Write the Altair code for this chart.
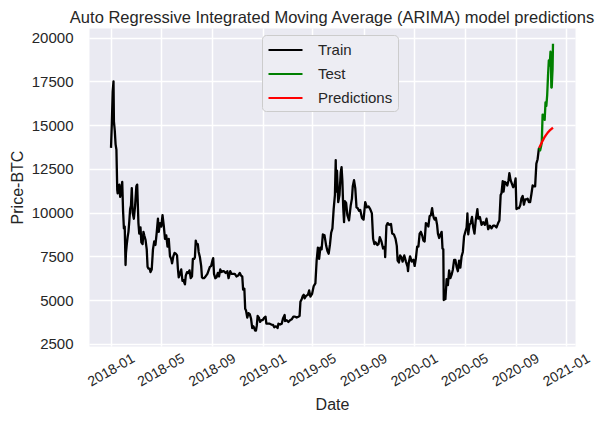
import altair as alt
import pandas as pd

TITLE = "Auto Regressive Integrated Moving Average (ARIMA) model predictions"

train_2018 = [
    ("2018-01-01", 13700), ("2018-01-03", 15100), ("2018-01-05", 16900), ("2018-01-07", 17500),
    ("2018-01-08", 15200), ("2018-01-10", 14700), ("2018-01-12", 13900), ("2018-01-14", 13600),
    ("2018-01-16", 11300), ("2018-01-17", 11100), ("2018-01-19", 11500), ("2018-01-21", 11600),
    ("2018-01-23", 10900), ("2018-01-25", 11200), ("2018-01-28", 11750), ("2018-01-30", 10100),
    ("2018-02-01", 9100), ("2018-02-03", 9200), ("2018-02-05", 7000), ("2018-02-06", 7700),
    ("2018-02-08", 8200), ("2018-02-10", 8600), ("2018-02-12", 8900), ("2018-02-14", 9500),
    ("2018-02-16", 10200), ("2018-02-18", 10400), ("2018-02-20", 11400), ("2018-02-22", 10000),
    ("2018-02-25", 9650), ("2018-02-28", 10400), ("2018-03-03", 11500), ("2018-03-05", 11600),
    ("2018-03-08", 9400), ("2018-03-10", 8800), ("2018-03-13", 9150), ("2018-03-15", 8300),
    ("2018-03-18", 8200), ("2018-03-20", 8900), ("2018-03-22", 8700), ("2018-03-25", 8450),
    ("2018-03-28", 7900), ("2018-03-30", 6900), ("2018-04-01", 6800), ("2018-04-04", 6800),
    ("2018-04-06", 6600), ("2018-04-09", 6750), ("2018-04-12", 7900), ("2018-04-15", 8350),
    ("2018-04-18", 8150), ("2018-04-21", 8850), ("2018-04-24", 9650), ("2018-04-26", 8900),
    ("2018-04-29", 9400), ("2018-05-02", 9200), ("2018-05-05", 9850), ("2018-05-08", 9250),
    ("2018-05-11", 8500), ("2018-05-14", 8700), ("2018-05-17", 8050), ("2018-05-20", 8500),
    ("2018-05-23", 7500), ("2018-05-26", 7350), ("2018-05-28", 7100), ("2018-05-31", 7500),
    ("2018-06-03", 7700), ("2018-06-06", 7650), ("2018-06-09", 7550), ("2018-06-11", 6800),
    ("2018-06-13", 6300), ("2018-06-16", 6500), ("2018-06-19", 6750), ("2018-06-22", 6100),
    ("2018-06-24", 6150), ("2018-06-28", 5900), ("2018-06-30", 6400), ("2018-07-03", 6600),
    ("2018-07-06", 6550), ("2018-07-09", 6700), ("2018-07-12", 6250), ("2018-07-15", 6350),
    ("2018-07-17", 7350), ("2018-07-20", 7350), ("2018-07-22", 7450), ("2018-07-24", 8400),
    ("2018-07-26", 8200), ("2018-07-29", 8200), ("2018-07-31", 7750), ("2018-08-03", 7450),
    ("2018-08-06", 6950), ("2018-08-08", 6300), ("2018-08-10", 6250), ("2018-08-13", 6250),
    ("2018-08-15", 6300), ("2018-08-18", 6400), ("2018-08-21", 6500), ("2018-08-24", 6700),
    ("2018-08-27", 6900), ("2018-08-30", 6950), ("2018-09-02", 7250), ("2018-09-04", 7400),
    ("2018-09-06", 6500), ("2018-09-09", 6250), ("2018-09-12", 6300), ("2018-09-15", 6550),
    ("2018-09-18", 6350), ("2018-09-21", 6750), ("2018-09-24", 6600), ("2018-09-27", 6650),
    ("2018-09-30", 6650), ("2018-10-04", 6550), ("2018-10-08", 6650), ("2018-10-11", 6250),
    ("2018-10-15", 6650), ("2018-10-18", 6500), ("2018-10-22", 6500), ("2018-10-26", 6500),
    ("2018-10-30", 6350), ("2018-11-03", 6400), ("2018-11-07", 6550), ("2018-11-10", 6400),
    ("2018-11-13", 6350), ("2018-11-15", 5600), ("2018-11-18", 5650), ("2018-11-20", 4500),
    ("2018-11-22", 4400), ("2018-11-25", 4000), ("2018-11-28", 4250), ("2018-12-01", 4200),
    ("2018-12-04", 3950), ("2018-12-07", 3400), ("2018-12-10", 3500), ("2018-12-14", 3250),
    ("2018-12-16", 3250), ("2018-12-18", 3550), ("2018-12-20", 4100), ("2018-12-23", 4000),
    ("2018-12-26", 3750), ("2018-12-29", 3850),
]

train_2019 = [
    ("2019-01-01", 3850), ("2019-01-05", 4000), ("2019-01-08", 4050), ("2019-01-10", 3650),
    ("2019-01-14", 3650), ("2019-01-18", 3650), ("2019-01-22", 3600), ("2019-01-26", 3580),
    ("2019-01-29", 3450), ("2019-02-02", 3500), ("2019-02-06", 3400), ("2019-02-08", 3650),
    ("2019-02-12", 3600), ("2019-02-16", 3650), ("2019-02-19", 3950), ("2019-02-23", 4150),
    ("2019-02-24", 3800), ("2019-02-28", 3850), ("2019-03-04", 3750), ("2019-03-08", 3850),
    ("2019-03-12", 3900), ("2019-03-16", 4050), ("2019-03-20", 4050), ("2019-03-24", 4000),
    ("2019-03-28", 4050), ("2019-03-31", 4100), ("2019-04-02", 4900), ("2019-04-05", 5050),
    ("2019-04-08", 5250), ("2019-04-10", 5300), ("2019-04-12", 5100), ("2019-04-16", 5250),
    ("2019-04-20", 5300), ("2019-04-23", 5550), ("2019-04-26", 5200), ("2019-04-30", 5350),
    ("2019-05-04", 5800), ("2019-05-08", 5950), ("2019-05-11", 7250), ("2019-05-14", 8000),
    ("2019-05-16", 7900), ("2019-05-17", 7350), ("2019-05-20", 8000), ("2019-05-23", 7900),
    ("2019-05-26", 8750), ("2019-05-30", 8700), ("2019-06-03", 8100), ("2019-06-06", 7800),
    ("2019-06-09", 7650), ("2019-06-12", 8150), ("2019-06-15", 8850), ("2019-06-18", 9100),
    ("2019-06-21", 10200), ("2019-06-24", 11000), ("2019-06-26", 13000), ("2019-06-27", 11200),
    ("2019-06-29", 12400), ("2019-07-02", 10600), ("2019-07-05", 11000), ("2019-07-08", 12300),
    ("2019-07-10", 12600), ("2019-07-12", 11800), ("2019-07-14", 10300), ("2019-07-16", 9450),
    ("2019-07-18", 10650), ("2019-07-21", 10550), ("2019-07-24", 9850), ("2019-07-28", 9550),
    ("2019-08-01", 10400), ("2019-08-04", 10800), ("2019-08-06", 11500), ("2019-08-09", 11850),
    ("2019-08-12", 11400), ("2019-08-15", 10300), ("2019-08-18", 10250), ("2019-08-21", 10100),
    ("2019-08-24", 10150), ("2019-08-28", 9700), ("2019-09-01", 9600), ("2019-09-05", 10600),
    ("2019-09-09", 10300), ("2019-09-13", 10350), ("2019-09-17", 10200), ("2019-09-21", 9950),
    ("2019-09-24", 8500), ("2019-09-27", 8200), ("2019-09-30", 8300), ("2019-10-04", 8150),
    ("2019-10-07", 8200), ("2019-10-10", 8600), ("2019-10-14", 8350), ("2019-10-18", 7950),
    ("2019-10-22", 8050), ("2019-10-23", 7450), ("2019-10-25", 8650), ("2019-10-26", 9250),
    ("2019-10-29", 9400), ("2019-11-02", 9300), ("2019-11-06", 9350), ("2019-11-09", 8800),
    ("2019-11-13", 8750), ("2019-11-17", 8500), ("2019-11-20", 8100), ("2019-11-22", 7250),
    ("2019-11-25", 7150), ("2019-11-28", 7550), ("2019-12-01", 7450), ("2019-12-04", 7200),
    ("2019-12-08", 7550), ("2019-12-12", 7200), ("2019-12-16", 6900), ("2019-12-17", 6650),
    ("2019-12-19", 7150), ("2019-12-22", 7500), ("2019-12-26", 7200), ("2019-12-30", 7300),
]

train_2020 = [
    ("2020-01-02", 6950), ("2020-01-05", 7400), ("2020-01-08", 8050), ("2020-01-11", 8050),
    ("2020-01-14", 8800), ("2020-01-17", 8900), ("2020-01-20", 8700), ("2020-01-23", 8400),
    ("2020-01-26", 8350), ("2020-01-29", 9400), ("2020-02-01", 9350), ("2020-02-04", 9200),
    ("2020-02-07", 9800), ("2020-02-10", 9850), ("2020-02-13", 10250), ("2020-02-15", 9900),
    ("2020-02-17", 9700), ("2020-02-19", 9600), ("2020-02-22", 9700), ("2020-02-25", 9300),
    ("2020-02-27", 8800), ("2020-03-01", 8550), ("2020-03-04", 8750), ("2020-03-07", 8900),
    ("2020-03-09", 7950), ("2020-03-11", 7900), ("2020-03-12", 5000), ("2020-03-14", 5350),
    ("2020-03-16", 5050), ("2020-03-19", 6200), ("2020-03-22", 5850), ("2020-03-25", 6700),
    ("2020-03-28", 6250), ("2020-03-31", 6450), ("2020-04-03", 6750), ("2020-04-06", 7300),
    ("2020-04-09", 7300), ("2020-04-12", 6900), ("2020-04-15", 6650), ("2020-04-18", 7250),
    ("2020-04-21", 6850), ("2020-04-24", 7500), ("2020-04-27", 7750), ("2020-04-30", 8650),
    ("2020-05-03", 8900), ("2020-05-06", 9150), ("2020-05-08", 9950), ("2020-05-10", 8750),
    ("2020-05-13", 9300), ("2020-05-16", 9400), ("2020-05-19", 9750), ("2020-05-22", 9150),
    ("2020-05-25", 8800), ("2020-05-28", 9550), ("2020-06-01", 10200), ("2020-06-03", 9650),
    ("2020-06-07", 9750), ("2020-06-11", 9300), ("2020-06-15", 9450), ("2020-06-19", 9300),
    ("2020-06-23", 9650), ("2020-06-27", 9050), ("2020-07-01", 9250), ("2020-07-05", 9100),
    ("2020-07-09", 9250), ("2020-07-13", 9250), ("2020-07-17", 9150), ("2020-07-21", 9400),
    ("2020-07-24", 9550), ("2020-07-27", 11000), ("2020-07-29", 11100), ("2020-08-01", 11800),
    ("2020-08-03", 11200), ("2020-08-06", 11750), ("2020-08-09", 11700), ("2020-08-12", 11550),
    ("2020-08-15", 11850), ("2020-08-17", 12250), ("2020-08-20", 11850), ("2020-08-23", 11650),
    ("2020-08-26", 11450), ("2020-08-29", 11550), ("2020-09-01", 11950), ("2020-09-03", 10200),
    ("2020-09-06", 10250), ("2020-09-09", 10250), ("2020-09-12", 10400), ("2020-09-15", 10800),
    ("2020-09-18", 10950), ("2020-09-21", 10450), ("2020-09-24", 10750), ("2020-09-27", 10750),
    ("2020-09-30", 10800), ("2020-10-03", 10600), ("2020-10-06", 10600), ("2020-10-09", 11050),
    ("2020-10-12", 11550), ("2020-10-15", 11500), ("2020-10-18", 11500), ("2020-10-21", 12800),
    ("2020-10-24", 13050), ("2020-10-27", 13650), ("2020-10-28", 13700),
]

test_2020 = [
    ("2020-10-28", 13700), ("2020-10-30", 13550), ("2020-11-01", 13750), ("2020-11-03", 14000),
    ("2020-11-05", 15600), ("2020-11-06", 15600), ("2020-11-08", 15500), ("2020-11-10", 15300),
    ("2020-11-12", 16300), ("2020-11-14", 16100), ("2020-11-16", 16700), ("2020-11-18", 17800),
    ("2020-11-20", 18700), ("2020-11-22", 18400), ("2020-11-24", 19200), ("2020-11-25", 18750),
    ("2020-11-26", 17150), ("2020-11-27", 17150), ("2020-11-28", 17700), ("2020-11-29", 18200),
    ("2020-11-30", 19650),
]

pred_2020 = [
    ("2020-10-28", 13700), ("2020-11-01", 13900), ("2020-11-05", 14100), ("2020-11-09", 14280),
    ("2020-11-13", 14430), ("2020-11-17", 14560), ("2020-11-21", 14670), ("2020-11-25", 14760),
    ("2020-11-30", 14850),
]

series_names = ["Train", "Test", "Predictions"]
series_colors = ["#000000", "#008000", "#ff0000"]
y_ticks = [2500, 5000, 7500, 10000, 12500, 15000, 17500, 20000]
x_tick_months = [(2018, 1), (2018, 5), (2018, 9), (2019, 1), (2019, 5), (2019, 9),
                 (2020, 1), (2020, 5), (2020, 9), (2021, 1)]

rows = []
for name, pts in [("Train", train_2018 + train_2019 + train_2020),
                  ("Test", test_2020), ("Predictions", pred_2020)]:
    for d, v in pts:
        rows.append({"Date": d, "Price": v, "series": name})
df = pd.DataFrame(rows)

x_values = [alt.DateTime(year=y, month=m, date=1, utc=True) for y, m in x_tick_months]
x_domain = [alt.DateTime(year=2017, month=11, date=9, utc=True),
            alt.DateTime(year=2021, month=1, date=22, utc=True)]

FONT = "Liberation Sans"
TXT = "#262626"

chart = alt.Chart(df).mark_line(strokeWidth=2.3, strokeJoin="round").encode(
    x=alt.X("Date:T",
            scale=alt.Scale(type="utc", domain=x_domain, nice=False),
            axis=alt.Axis(values=x_values, format="%Y-%m", labelAngle=330,
                          labelAlign="center", labelBaseline="middle", labelPadding=24,
                          labelOverlap=False, labelFontSize=14,
                          title="Date", titleY=58, titleBaseline="middle")),
    y=alt.Y("Price:Q",
            scale=alt.Scale(domain=[2375, 20550], nice=False, zero=False),
            axis=alt.Axis(values=y_ticks, format="d", labelPadding=16,
                          title="Price-BTC", titleX=-72, titleBaseline="middle")),
    color=alt.Color("series:N",
                    scale=alt.Scale(domain=series_names, range=series_colors),
                    sort=series_names,
                    legend=alt.Legend(title=None, orient="none", legendX=173, legendY=7,
                                      symbolType="M-1,0H3", symbolSize=289,
                                      symbolStrokeWidth=2.2, labelOffset=31,
                                      labelFontSize=15, labelFont=FONT, labelColor=TXT,
                                      rowPadding=6, padding=5,
                                      fillColor="#EDEDF3", strokeColor="#cccccc",
                                      cornerRadius=4)),
    order=alt.Order("Date:T"),
).properties(
    width=486, height=318,
    title=alt.TitleParams(TITLE, fontSize=16.5, font=FONT, fontWeight="normal",
                          color=TXT, offset=2),
    autosize=alt.AutoSizeParams(type="none"),
    padding={"left": 81, "top": 20, "right": 25, "bottom": 72},
).configure_view(
    fill="#EAEAF2", strokeOpacity=0
).configure_axis(
    grid=True, gridColor="#ffffff", gridWidth=1.5, domain=False, ticks=False,
    labelFont=FONT, labelFontSize=15, labelColor=TXT,
    titleFont=FONT, titleFontSize=16, titleColor=TXT, titleFontWeight="normal",
)

chart.save("out.html", embed_options={"renderer": "svg", "actions": False})
